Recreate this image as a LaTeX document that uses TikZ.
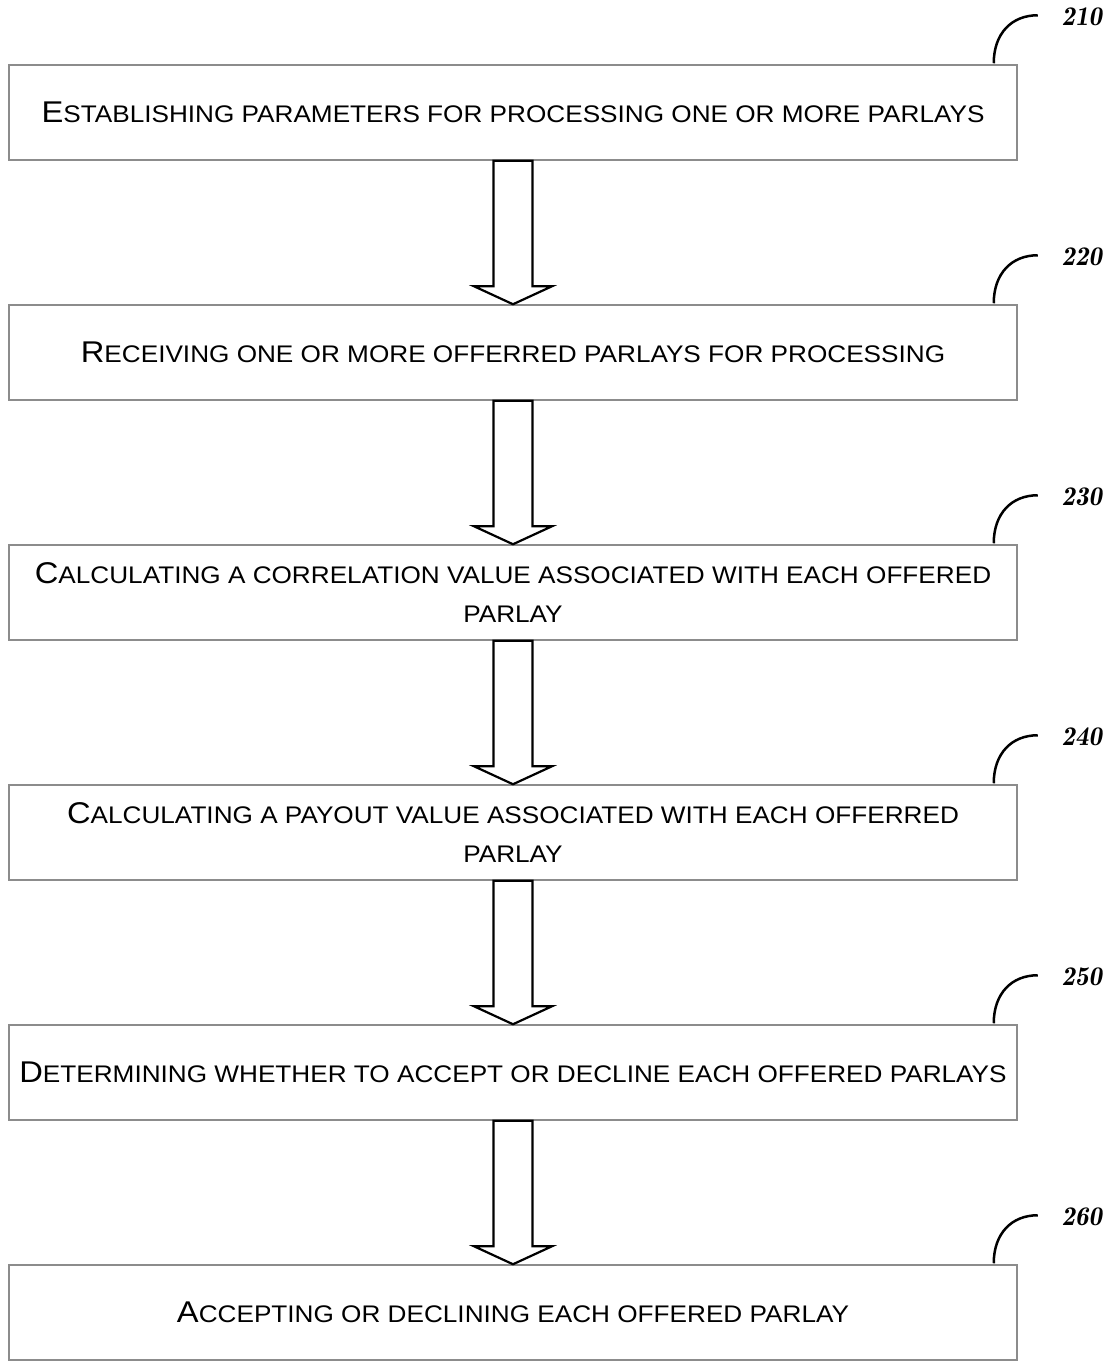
\documentclass[tikz,border=0pt]{standalone}
\usepackage{fontspec}
\setmainfont{Liberation Sans}
\newfontfamily\boxfont[FakeStretch=1.09]{Liberation Sans}
\usetikzlibrary{calc}
% small-caps look: large initial capital, smaller capitals for the rest
\newcommand\initcap[1]{{\fontsize{30}{39}\selectfont #1}}
\newcommand\restcaps[1]{{\fontsize{24}{39}\selectfont #1}}
\newcommand\stepnum[1]{{\fontfamily{lmr}\fontsize{27}{30}\selectfont\bfseries\itshape #1}}
\tikzset{
  stepbox/.style={draw=black!45, line width=1.5pt, minimum width=1008pt, minimum height=95pt,
    inner sep=0pt, align=center, font=\boxfont\fontsize{24}{39}\selectfont},
  blockarrow/.style={draw=black, line width=2.2pt, fill=white, line join=miter},
  leader/.style={draw=black, line width=2.5pt},
  refnum/.style={inner sep=0pt}
}
% hollow block arrow from the bottom of one box to the top of the next
\newcommand\flowarrow[2]{%
  \draw[blockarrow]
    ($(#1.south)+(-19.5,0)$) -- ($(#2.north)+(-19.5,-18)$) -- ($(#2.north)+(-39,-18)$)
    -- (#2.north) -- ($(#2.north)+(39,-18)$) -- ($(#2.north)+(19.5,-18)$)
    -- ($(#1.south)+(19.5,0)$) -- cycle;}
% curved leader line rising from the box top to its reference number
\newcommand\refmark[2]{%
  \coordinate (#1foot) at ($(#1.north east)+(-24,-1)$);
  \node[refnum] (#1num) at ($(#1.north east)+(64,-47)$) {\stepnum{#2}};
  \coordinate (#1end) at ($(#1.north east)+(20,-49)$);
  \draw[leader] (#1foot) .. controls ($(#1foot)+(0,-30)$) and ($(#1end)+(-26,0)$) .. (#1end);}
\begin{document}
\begin{tikzpicture}[x=1pt,y=-1pt]
  \useasboundingbox[fill=white] (0,0) rectangle (1119,1361);
  \node[stepbox] (s1) at (513,112.5) {\initcap{E}\restcaps{STABLISHING PARAMETERS FOR PROCESSING ONE OR MORE PARLAYS}};
  \node[stepbox] (s2) at (513,352.5) {\initcap{R}\restcaps{ECEIVING ONE OR MORE OFFERRED PARLAYS FOR PROCESSING}};
  \node[stepbox] (s3) at (513,592.5) {\initcap{C}\restcaps{ALCULATING A CORRELATION VALUE ASSOCIATED WITH EACH OFFERED}\\\restcaps{PARLAY}};
  \node[stepbox] (s4) at (513,832.5) {\initcap{C}\restcaps{ALCULATING A PAYOUT VALUE ASSOCIATED WITH EACH OFFERRED}\\\restcaps{PARLAY}};
  \node[stepbox] (s5) at (513,1072.5) {\initcap{D}\restcaps{ETERMINING WHETHER TO ACCEPT OR DECLINE EACH OFFERED PARLAYS}};
  \node[stepbox] (s6) at (513,1312.5) {\initcap{A}\restcaps{CCEPTING OR DECLINING EACH OFFERED PARLAY}};
  \flowarrow{s1}{s2}
  \flowarrow{s2}{s3}
  \flowarrow{s3}{s4}
  \flowarrow{s4}{s5}
  \flowarrow{s5}{s6}
  \refmark{s1}{210}
  \refmark{s2}{220}
  \refmark{s3}{230}
  \refmark{s4}{240}
  \refmark{s5}{250}
  \refmark{s6}{260}
\end{tikzpicture}
\end{document}
